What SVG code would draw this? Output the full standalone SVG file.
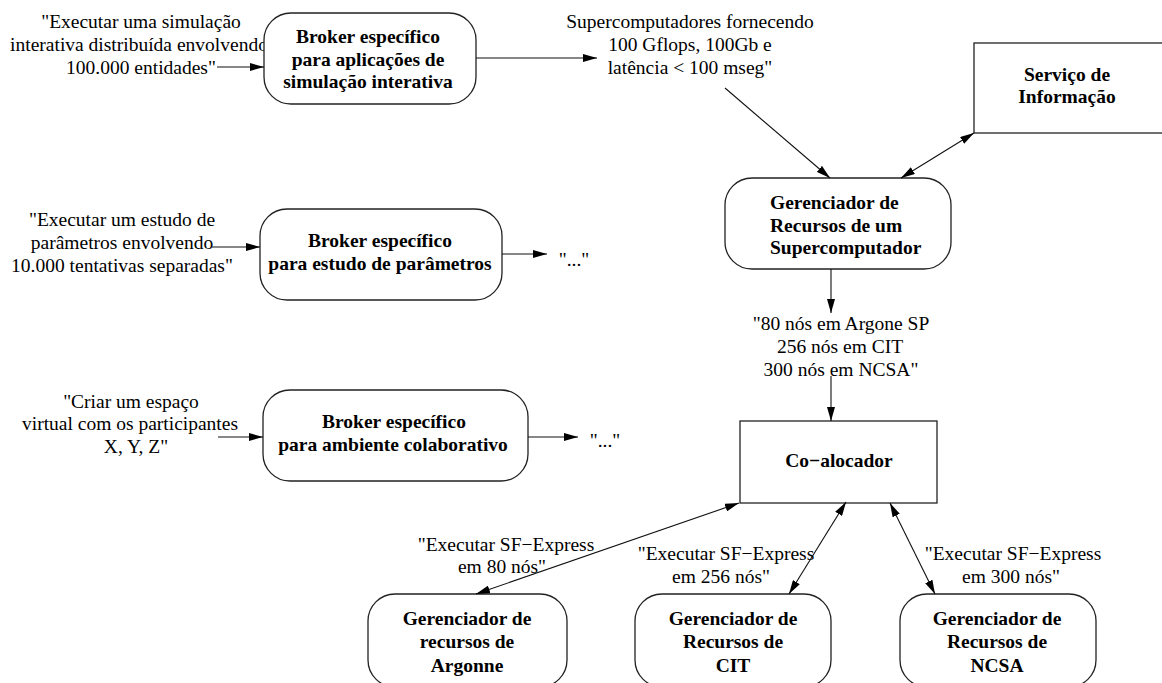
<svg xmlns="http://www.w3.org/2000/svg" width="1162" height="683" viewBox="0 0 1162 683">
<style>
.lbl{font-family:"Liberation Serif","Times New Roman",serif;font-size:19.5px;fill:#000;text-anchor:middle}
.nt{font-family:"Liberation Serif","Times New Roman",serif;font-size:19.5px;font-weight:bold;fill:#000;text-anchor:middle}
.box{fill:#fff;stroke:#222;stroke-width:1.3}
.ln{stroke:#111;stroke-width:1.1;fill:none;marker-end:url(#ah)}
.dl{stroke:#111;stroke-width:1.1;fill:none;marker-end:url(#ah);marker-start:url(#ah)}
</style>
<defs>
<marker id="ah" viewBox="0 0 14 8" refX="14" refY="4" markerWidth="14" markerHeight="8" markerUnits="userSpaceOnUse" orient="auto-start-reverse">
<path d="M0,0 L14,4 L0,8 z" fill="#000"/>
</marker>
</defs>
<rect width="1162" height="683" fill="#fff"/>

<g id="label-sim">
<text class="lbl" x="141" y="28">"Executar uma simulação</text>
<text class="lbl" x="139" y="51">interativa distribuída envolvendo</text>
<text class="lbl" x="141" y="74">100.000 entidades"</text>
</g>
<g id="broker-sim">
<rect class="box" x="264" y="13" width="212" height="91" rx="27"/>
<text class="nt" x="368" y="43">Broker específico</text>
<text class="nt" x="368" y="66">para aplicações de</text>
<text class="nt" x="368" y="88">simulação interativa</text>
</g>
<g id="label-super">
<text class="lbl" x="690" y="28">Supercomputadores fornecendo</text>
<text class="lbl" x="690" y="51">100 Gflops, 100Gb e</text>
<text class="lbl" x="690" y="74">latência &lt; 100 mseg"</text>
</g>
<g id="servico">
<rect class="box" x="974" y="43" width="200" height="90"/>
<text class="nt" x="1067" y="81">Serviço de</text>
<text class="nt" x="1067" y="103">Informação</text>
</g>
<g id="gerenciador-super">
<rect class="box" x="725" y="178" width="226" height="91" rx="27"/>
<text class="nt" x="770" y="209" style="text-anchor:start">Gerenciador de</text>
<text class="nt" x="770" y="232" style="text-anchor:start">Recursos de um</text>
<text class="nt" x="770" y="254" style="text-anchor:start">Supercomputador</text>
</g>
<g id="label-param">
<text class="lbl" x="122" y="226">"Executar um estudo de</text>
<text class="lbl" x="122" y="249">parâmetros envolvendo</text>
<text class="lbl" x="122" y="272">10.000 tentativas separadas"</text>
</g>
<g id="broker-param">
<rect class="box" x="260" y="209" width="242" height="91" rx="27"/>
<text class="nt" x="380" y="247">Broker específico</text>
<text class="nt" x="380" y="270">para estudo de parâmetros</text>
</g>
<g id="dots-param"><text class="lbl" x="574" y="266">"..."</text></g>
<g id="label-nos">
<text class="lbl" x="841" y="330">"80 nós em Argone SP</text>
<text class="lbl" x="840" y="353">256 nós em CIT</text>
<text class="lbl" x="841" y="376">300 nós em NCSA"</text>
</g>
<g id="label-colab">
<text class="lbl" x="131" y="408">"Criar um espaço</text>
<text class="lbl" x="130" y="430">virtual com os participantes</text>
<text class="lbl" x="136" y="453">X, Y, Z"</text>
</g>
<g id="broker-colab">
<rect class="box" x="263" y="390" width="265" height="91" rx="27"/>
<text class="nt" x="394" y="428">Broker específico</text>
<text class="nt" x="393" y="451">para ambiente colaborativo</text>
</g>
<g id="dots-colab"><text class="lbl" x="605" y="447">"..."</text></g>
<g id="coalocador">
<rect class="box" x="740" y="421" width="197" height="82"/>
<text class="nt" x="839" y="467">Co−alocador</text>
</g>
<g id="label-argonne">
<text class="lbl" x="506" y="551">"Executar SF−Express</text>
<text class="lbl" x="502" y="573">em 80 nós"</text>
</g>
<g id="label-cit">
<text class="lbl" x="726" y="560">"Executar SF−Express</text>
<text class="lbl" x="721" y="583">em 256 nós"</text>
</g>
<g id="label-ncsa">
<text class="lbl" x="1013" y="560">"Executar SF−Express</text>
<text class="lbl" x="1011" y="583">em 300 nós"</text>
</g>
<g id="ger-argonne">
<rect class="box" x="368" y="594" width="199" height="93" rx="27"/>
<text class="nt" x="467" y="625">Gerenciador de</text>
<text class="nt" x="467" y="648">recursos de</text>
<text class="nt" x="467" y="672">Argonne</text>
</g>
<g id="ger-cit">
<rect class="box" x="635" y="594" width="196" height="93" rx="27"/>
<text class="nt" x="733" y="625">Gerenciador de</text>
<text class="nt" x="733" y="648">Recursos de</text>
<text class="nt" x="733" y="672">CIT</text>
</g>
<g id="ger-ncsa">
<rect class="box" x="900" y="594" width="196" height="93" rx="27"/>
<text class="nt" x="997" y="625">Gerenciador de</text>
<text class="nt" x="997" y="648">Recursos de</text>
<text class="nt" x="997" y="672">NCSA</text>
</g>

<g id="connectors">
<line class="ln" x1="217" y1="67" x2="264" y2="67"/>
<line class="ln" x1="476" y1="58" x2="597" y2="58"/>
<line class="ln" x1="725" y1="88" x2="830" y2="178"/>
<line class="dl" x1="901" y1="178" x2="974" y2="133"/>
<line class="ln" x1="831" y1="269" x2="831" y2="313"/>
<line class="ln" x1="831" y1="376" x2="831" y2="421"/>
<line class="ln" x1="212" y1="247" x2="260" y2="247"/>
<line class="ln" x1="502" y1="254" x2="547" y2="254"/>
<line class="ln" x1="218" y1="437" x2="263" y2="437"/>
<line class="ln" x1="528" y1="437" x2="578" y2="437"/>
<line class="dl" x1="739" y1="503" x2="476" y2="594"/>
<line class="dl" x1="846" y1="502" x2="789" y2="594"/>
<line class="dl" x1="890" y1="503" x2="935" y2="594"/>
</g>
</svg>
